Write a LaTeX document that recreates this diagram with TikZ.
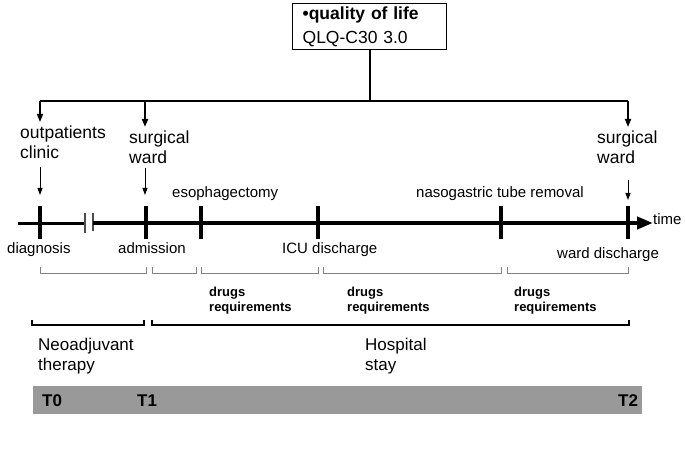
\documentclass[tikz,border=0pt]{standalone}
\usepackage{fontspec}
\setmainfont{Liberation Sans}
\usetikzlibrary{arrows.meta}
\definecolor{barc}{RGB}{153,153,153}
\definecolor{brc}{RGB}{130,130,130}
\begin{document}
\begin{tikzpicture}[x=1pt,y=-1pt,
  lbl/.style={inner sep=0pt, font=\fontsize{15}{18}\selectfont, anchor=base west},
  big/.style={inner sep=0pt, font=\fontsize{17.5}{20.5}\selectfont, anchor=base west, align=left},
  mid/.style={inner sep=0pt, font=\fontsize{17}{20}\selectfont, anchor=base west, align=left},
  drug/.style={inner sep=0pt, font=\bfseries\fontsize{13}{15}\selectfont, anchor=base west, align=left},
  tlab/.style={inner sep=0pt, font=\bfseries\fontsize{17}{20}\selectfont, anchor=base west},
  tickmark/.style={line width=4pt},
  thinbr/.style={draw=brc, line width=1pt},
  bigbr/.style={draw=black, line width=2.5pt},
  conn/.style={line width=2pt},
  downarr/.style={-{Triangle[width=6pt,length=8pt]}},
  smallarr/.style={line width=1pt, -{Triangle[width=5pt,length=7pt]}}]
\useasboundingbox (0,0) rectangle (685,473);

% quality of life box
\node[draw, line width=1.3pt, anchor=north west, minimum width=154pt, minimum height=46pt,
  inner xsep=10pt, inner ysep=0pt, text width=134pt, align=left,
  font=\fontsize{17.5}{24}\selectfont] (qol) at (292,3)
  {\textbf{•quality of life}\\QLQ-C30 3.0};

% top connector
\coordinate (jt) at (qol.south |- 0,101);
\coordinate (jl) at (40,101);
\coordinate (jm) at (145,101);
\coordinate (jr) at (628,101);
\coordinate (al) at (40,122);
\coordinate (am) at (145,127);
\coordinate (ar) at (628,127);
\draw[conn] (qol.south) -- (jt);
\draw[conn] (jl) -- (jr);
\draw[line width=1.5pt, downarr] (jl) -- (al);
\draw[conn, downarr] (jm) -- (am);
\draw[line width=1.7pt, downarr] (jr) -- (ar);

% place labels (anchor = baseline of last line)
\node[big] (outp) at (20,159) {outpatients\\clinic};
\node[big] (surg1) at (129,164) {surgical\\ward};
\node[big] (surg2) at (597,164) {surgical\\ward};

% small arrows
\coordinate (s1a) at (40,167);  \coordinate (s1b) at (40,195);
\coordinate (s2a) at (145,168); \coordinate (s2b) at (145,195);
\coordinate (s3a) at (628,180); \coordinate (s3b) at (628,200);
\draw[smallarr] (s1a) -- (s1b);
\draw[smallarr] (s2a) -- (s2b);
\draw[smallarr] (s3a) -- (s3b);

% timeline
\coordinate (t0) at (18,223);
\coordinate (b1) at (85,223);
\coordinate (b2) at (93,223);
\coordinate (tend) at (653,223);
\draw[line width=3pt] (t0) -- (b1);
\draw[line width=1.3pt, black!70] (85,213) -- (85,233);
\draw[line width=1.3pt, black!70] (93,213) -- (93,231);
\draw[line width=4pt, -{Triangle[width=12pt,length=16pt]}] (b2) -- (tend);
\node[lbl] (time) at (653,225) {time};

% ticks
\foreach \n/\x in {diag/40, adm/146, eso/201, icu/318, ngt/501, wd/628}{
  \coordinate (\n-top) at (\x,206);
  \coordinate (\n-bot) at (\x,239);
  \draw[tickmark] (\n-top) -- (\n-bot);
}

% event labels
\node[lbl] (ldiag) at (7,253) {diagnosis};
\node[lbl] (ladm) at (118,253) {admission};
\node[lbl] (licu) at (282,253) {ICU discharge};
\node[lbl] (lwd) at (557,258) {ward discharge};
\node[lbl] (leso) at (172,198) {esophagectomy};
\node[lbl] (lngt) at (416,198) {nasogastric tube removal};

% thin brackets
\foreach \a/\b in {40/146, 152/196, 201/318, 323/501, 507/628}{
  \draw[thinbr] (\a,267) -- (\a,273) -- (\b,273) -- (\b,267);
}

% drugs requirements
\node[drug] (dr1) at (209,311) {drugs\\requirements};
\node[drug] (dr2) at (347,311) {drugs\\requirements};
\node[drug] (dr3) at (514,311) {drugs\\requirements};

% big brackets
\draw[bigbr] (32,320) -- (32,325) -- (144,325) -- (144,320);
\draw[bigbr] (152,320) -- (152,325) -- (629,325) -- (629,320);

\node[mid] (neo) at (38,370) {Neoadjuvant\\therapy};
\node[mid] (hosp) at (365,370) {Hospital\\stay};

% bottom bar
\fill[barc] (33,386) rectangle (642,414);
\node[tlab] (T0) at (42,406) {T0};
\node[tlab] (T1) at (137,406) {T1};
\node[tlab] (T2) at (618,406) {T2};
\end{tikzpicture}
\end{document}
